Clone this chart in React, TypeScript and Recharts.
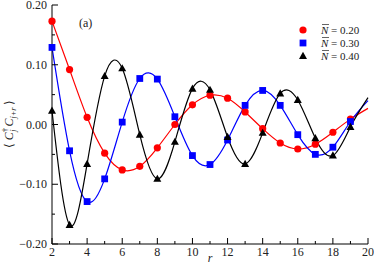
import React from "react";
import { ComposedChart, Line, XAxis, YAxis } from "recharts";

const rValues = [2, 3, 4, 5, 6, 7, 8, 9, 10, 11, 12, 13, 14, 15, 16, 17, 18, 19, 20];
const n020 = [0.173, 0.092, 0.012, -0.048, -0.076, -0.07, -0.039, 0.0, 0.033, 0.049, 0.044, 0.021, -0.007, -0.031, -0.041, -0.033, -0.013, 0.009, 0.027];
const n030 = [0.129, -0.044, -0.129, -0.091, 0.004, 0.077, 0.076, 0.013, -0.052, -0.067, -0.026, 0.032, 0.057, 0.032, -0.017, -0.05, -0.038, 0.005, 0.04];
const n040 = [0.023, -0.168, -0.066, 0.081, 0.094, -0.017, -0.091, -0.029, 0.06, 0.058, -0.021, -0.066, -0.014, 0.052, 0.041, -0.023, -0.052, -0.004, 0.045];
const xTicks = [2, 3, 4, 5, 6, 7, 8, 9, 10, 11, 12, 13, 14, 15, 16, 17, 18, 19, 20];
const yTicks = [-0.2, -0.15, -0.1, -0.05, 0, 0.05, 0.1, 0.15, 0.2];
const legendLabels = ["0.20", "0.30", "0.40"];

const data = rValues.map((r, i) => ({ r, a: n020[i], b: n030[i], c: n040[i] }));

const FONT = "Liberation Serif, Times New Roman, serif";
const LAST_MARKER_R = 19;

function Marker({ shape, cx, cy, color }: any) {
  if (shape === "circle") return <circle cx={cx} cy={cy} r={3.6} fill={color} />;
  if (shape === "square") return <rect x={cx - 3.4} y={cy - 3.4} width={6.8} height={6.8} fill={color} />;
  return <polygon points={`${cx},${cy - 4.2} ${cx - 4},${cy + 3} ${cx + 4},${cy + 3}`} fill={color} />;
}

const makeDot = (shape: string, color: string) => (p: any) => {
  const key = `${shape}-${p.index}`;
  if (p.payload && p.payload.r > LAST_MARKER_R) return <g key={key} />;
  return (
    <g key={key}>
      <Marker shape={shape} cx={p.cx} cy={p.cy} color={color} />
    </g>
  );
};

const XTick = ({ x, y, payload }: any) => {
  const v = payload.value;
  const major = Math.round(v) % 2 === 0;
  return (
    <g>
      <line x1={x} x2={x} y1={y} y2={y - (major ? 6 : 3)} stroke="#000" strokeWidth={1} />
      {major && (
        <text x={x} y={y + 12} textAnchor="middle" fontFamily={FONT} fontSize={12} fill="#222">
          {v}
        </text>
      )}
    </g>
  );
};

const fmtY = (v: number) => {
  const s = Math.abs(v).toFixed(2);
  return v < -1e-9 ? "\u2212" + s : s;
};

const YTick = ({ x, y, payload }: any) => {
  const v = payload.value;
  const major = Math.abs(Math.round(v * 100) % 10) === 0;
  return (
    <g>
      <line x1={x} x2={x + (major ? 6 : 3)} y1={y} y2={y} stroke="#000" strokeWidth={1} />
      {major && (
        <text x={x - 5} y={y + 4} textAnchor="end" fontFamily={FONT} fontSize={12} fill="#222">
          {fmtY(v)}
        </text>
      )}
    </g>
  );
};

export default function App() {
  const colors = ["#ff0000", "#0000ff", "#000000"];
  const shapes = ["circle", "square", "triangle"];
  return (
    <div style={{ position: "absolute", left: 0, top: 0, width: 374, height: 265 }}>
      <ComposedChart
        width={374}
        height={265}
        data={data}
        margin={{ top: 5, right: 6, bottom: 0, left: 0 }}
      >
        <XAxis
          xAxisId="top"
          orientation="top"
          dataKey="r"
          type="number"
          domain={[2, 20]}
          height={0}
          tick={false}
          tickLine={false}
          axisLine={{ stroke: "#666", strokeWidth: 1 }}
        />
        <YAxis
          yAxisId="right"
          orientation="right"
          type="number"
          domain={[-0.2, 0.2]}
          width={0}
          tick={false}
          tickLine={false}
          axisLine={{ stroke: "#666", strokeWidth: 1 }}
        />
        <XAxis
          dataKey="r"
          type="number"
          domain={[2, 20]}
          ticks={xTicks}
          interval={0}
          height={21}
          tickSize={0}
          tickMargin={0}
          tickLine={false}
          tick={<XTick />}
          axisLine={{ stroke: "#000", strokeWidth: 1 }}
        />
        <YAxis
          type="number"
          domain={[-0.2, 0.2]}
          ticks={yTicks}
          interval={0}
          width={52}
          tickSize={0}
          tickMargin={0}
          tickLine={false}
          tick={<YTick />}
          axisLine={{ stroke: "#000", strokeWidth: 1 }}
        />
        <Line
          dataKey="a"
          type="natural"
          stroke={colors[0]}
          strokeWidth={1.2}
          dot={makeDot(shapes[0], colors[0])}
          isAnimationActive={false}
        />
        <Line
          dataKey="b"
          type="natural"
          stroke={colors[1]}
          strokeWidth={1.2}
          dot={makeDot(shapes[1], colors[1])}
          isAnimationActive={false}
        />
        <Line
          dataKey="c"
          type="natural"
          stroke={colors[2]}
          strokeWidth={1.2}
          dot={makeDot(shapes[2], colors[2])}
          isAnimationActive={false}
        />
      </ComposedChart>
      <svg
        width={374}
        height={265}
        style={{ position: "absolute", left: 0, top: 0, pointerEvents: "none" }}
      >
        <text x={79} y={27} fontFamily={FONT} fontSize={12} fill="#222">
          (a)
        </text>
        {legendLabels.map((lab, i) => {
          const cy = 30 + i * 13;
          return (
            <g key={lab}>
              <Marker shape={shapes[i]} cx={303} cy={cy} color={colors[i]} />
              <line x1={322} x2={329} y1={cy - 5.5} y2={cy - 5.5} stroke="#222" strokeWidth={0.7} />
              <text x={321} y={cy + 4} fontFamily={FONT} fontSize={11} fill="#222">
                <tspan fontStyle="italic">N</tspan>
                <tspan> = {lab}</tspan>
              </text>
            </g>
          );
        })}
        <text
          x={210}
          y={262}
          textAnchor="middle"
          fontFamily={FONT}
          fontSize={12}
          fontStyle="italic"
          fill="#222"
        >
          r
        </text>
        <text
          transform="translate(13,124) rotate(-90)"
          textAnchor="middle"
          fontFamily={FONT}
          fontSize={12}
          fill="#222"
        >
          <tspan>{"\u27E8 "}</tspan>
          <tspan fontStyle="italic">C</tspan>
          <tspan fontSize={9} dy={-5}>†</tspan>
          <tspan fontSize={8} fontStyle="italic" dx={-4} dy={8}>j</tspan>
          <tspan fontStyle="italic" dy={-3}>{" C"}</tspan>
          <tspan fontSize={8} fontStyle="italic" dy={3}>j+r</tspan>
          <tspan dy={-3}>{" \u27E9"}</tspan>
        </text>
      </svg>
    </div>
  );
}
